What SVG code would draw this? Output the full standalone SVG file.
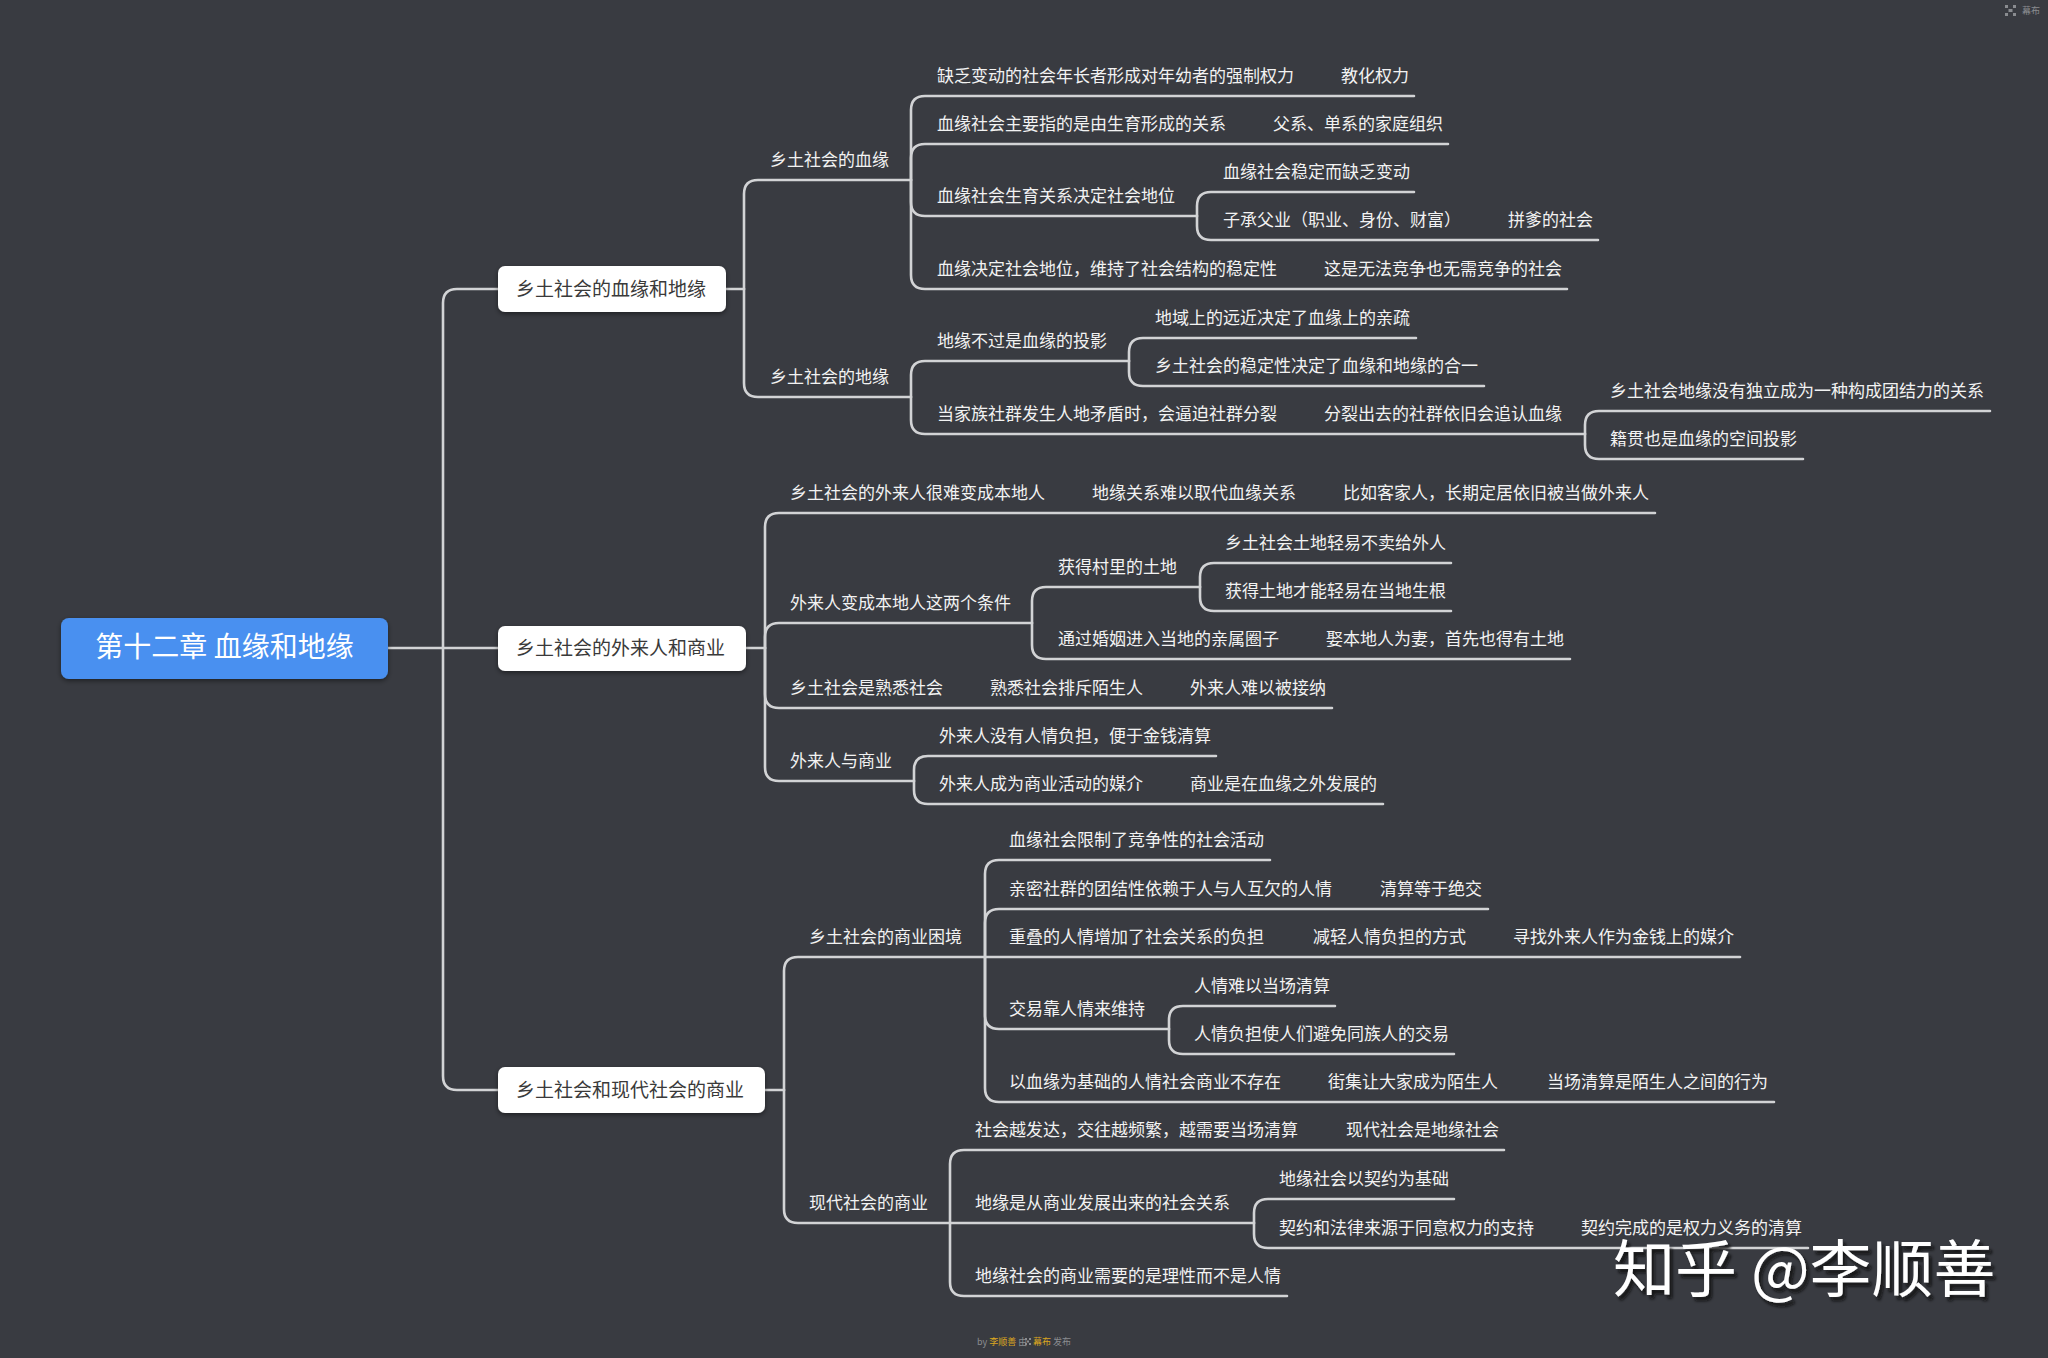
<svg xmlns="http://www.w3.org/2000/svg" width="2048" height="1358" viewBox="0 0 2048 1358">
<defs>
<style>
.t{font-family:"Noto Sans CJK SC","Noto Sans",sans-serif;font-size:17px;fill:#f2f2f2;transform:translateY(-2px)}
.l1{font-family:"Noto Sans CJK SC","Noto Sans",sans-serif;font-size:19px;fill:#3a3a3a}
.box{fill:#ffffff}
.c{fill:none;stroke:#d2d3d5;stroke-width:2.6;stroke-linecap:round}
.tiny{font-family:"Noto Sans CJK SC","Noto Sans",sans-serif;font-size:9px;fill:#8a8c90}
.or{fill:#d9a520}
</style>
<filter id="sh" x="-10%" y="-20%" width="120%" height="160%">
<feDropShadow dx="0" dy="2" stdDeviation="2.5" flood-color="#000" flood-opacity="0.45"/>
</filter>
<filter id="wm" x="-5%" y="-20%" width="115%" height="160%">
<feDropShadow dx="3" dy="4" stdDeviation="1.5" flood-color="#111" flood-opacity="0.85"/>
</filter>
</defs>
<rect width="2048" height="1358" fill="#393b41"/>

<g id="connectors">
<path class="c" d="M388,648 H498"/>
<path class="c" d="M443,648 V303 Q443,289 457,289 H498"/>
<path class="c" d="M443,648 V1076 Q443,1090 457,1090 H498"/>
<!-- branch 1 -->
<path class="c" d="M726,289 H744"/>
<path class="c" d="M744,289 V194 Q744,180 758,180 H911"/>
<path class="c" d="M744,289 V383 Q744,397 758,397 H911"/>
<path class="c" d="M911,180 V110 Q911,96 925,96 H1414"/>
<path class="c" d="M911,180 V158 Q911,144 925,144 H1448"/>
<path class="c" d="M911,180 V202 Q911,216 925,216 H1197"/>
<path class="c" d="M911,180 V275 Q911,289 925,289 H1567"/>
<path class="c" d="M1197,216 V206 Q1197,192 1211,192 H1414"/>
<path class="c" d="M1197,216 V226 Q1197,240 1211,240 H1598"/>
<path class="c" d="M911,397 V375 Q911,361 925,361 H1129"/>
<path class="c" d="M911,397 V420 Q911,434 925,434 H1585"/>
<path class="c" d="M1129,361 V352 Q1129,338 1143,338 H1416"/>
<path class="c" d="M1129,361 V372 Q1129,386 1143,386 H1484"/>
<path class="c" d="M1585,434 V425 Q1585,411 1599,411 H1990"/>
<path class="c" d="M1585,434 V445 Q1585,459 1599,459 H1803"/>
<!-- branch 2 -->
<path class="c" d="M746,648 H765"/>
<path class="c" d="M765,648 V527 Q765,513 779,513 H1655"/>
<path class="c" d="M765,648 V637 Q765,623 779,623 H1032"/>
<path class="c" d="M765,648 V694 Q765,708 779,708 H1332"/>
<path class="c" d="M765,648 V767 Q765,781 779,781 H914"/>
<path class="c" d="M1032,623 V601 Q1032,587 1046,587 H1200"/>
<path class="c" d="M1032,623 V645 Q1032,659 1046,659 H1570"/>
<path class="c" d="M1200,587 V577 Q1200,563 1214,563 H1451"/>
<path class="c" d="M1200,587 V597 Q1200,611 1214,611 H1451"/>
<path class="c" d="M914,781 V770 Q914,756 928,756 H1216"/>
<path class="c" d="M914,781 V790 Q914,804 928,804 H1383"/>
<!-- branch 3 -->
<path class="c" d="M765,1090 H784"/>
<path class="c" d="M784,1090 V971 Q784,957 798,957 H985"/>
<path class="c" d="M784,1090 V1209 Q784,1223 798,1223 H950"/>
<path class="c" d="M985,957 V874 Q985,860 999,860 H1270"/>
<path class="c" d="M985,957 V923 Q985,909 999,909 H1488"/>
<path class="c" d="M985,957 H1740"/>
<path class="c" d="M985,957 V1015 Q985,1029 999,1029 H1169"/>
<path class="c" d="M985,957 V1088 Q985,1102 999,1102 H1774"/>
<path class="c" d="M1169,1029 V1020 Q1169,1006 1183,1006 H1335"/>
<path class="c" d="M1169,1029 V1040 Q1169,1054 1183,1054 H1454"/>
<path class="c" d="M950,1223 V1164 Q950,1150 964,1150 H1504"/>
<path class="c" d="M950,1223 H1254"/>
<path class="c" d="M950,1223 V1282 Q950,1296 964,1296 H1287"/>
<path class="c" d="M1254,1223 V1213 Q1254,1199 1268,1199 H1454"/>
<path class="c" d="M1254,1223 V1234 Q1254,1248 1268,1248 H1808"/>
</g>

<g id="root">
<rect x="61" y="618" width="327" height="61" rx="8" fill="#4a90f0" filter="url(#sh)"/>
<text x="224.5" y="657" text-anchor="middle" font-family="'Noto Sans CJK SC','Noto Sans',sans-serif" font-size="28" fill="#ffffff">第十二章 血缘和地缘</text>
</g>

<g id="b1">
<rect class="box" x="498" y="266" width="228" height="46" rx="7" filter="url(#sh)"/>
<text class="l1" x="516" y="296">乡土社会的血缘和地缘</text>
</g>
<g id="b2">
<rect class="box" x="498" y="626" width="248" height="45" rx="7" filter="url(#sh)"/>
<text class="l1" x="516" y="655">乡土社会的外来人和商业</text>
</g>
<g id="b3">
<rect class="box" x="498" y="1067" width="267" height="46" rx="7" filter="url(#sh)"/>
<text class="l1" x="516" y="1097">乡土社会和现代社会的商业</text>
</g>

<g id="n-b1a"><text class="t" x="770" y="168">乡土社会的血缘</text></g>
<g id="n-b1b"><text class="t" x="770" y="385">乡土社会的地缘</text></g>
<g id="n1"><text class="t" x="937" y="84">缺乏变动的社会年长者形成对年幼者的强制权力</text></g>
<g id="n2"><text class="t" x="1341" y="84">教化权力</text></g>
<g id="n3"><text class="t" x="937" y="132">血缘社会主要指的是由生育形成的关系</text></g>
<g id="n4"><text class="t" x="1273" y="132">父系、单系的家庭组织</text></g>
<g id="n5"><text class="t" x="937" y="204">血缘社会生育关系决定社会地位</text></g>
<g id="n6"><text class="t" x="1223" y="180">血缘社会稳定而缺乏变动</text></g>
<g id="n7"><text class="t" x="1223" y="228">子承父业（职业、身份、财富）</text></g>
<g id="n8"><text class="t" x="1508" y="228">拼爹的社会</text></g>
<g id="n9"><text class="t" x="937" y="277">血缘决定社会地位，维持了社会结构的稳定性</text></g>
<g id="n10"><text class="t" x="1324" y="277">这是无法竞争也无需竞争的社会</text></g>
<g id="n11"><text class="t" x="937" y="349">地缘不过是血缘的投影</text></g>
<g id="n12"><text class="t" x="1155" y="326">地域上的远近决定了血缘上的亲疏</text></g>
<g id="n13"><text class="t" x="1155" y="374">乡土社会的稳定性决定了血缘和地缘的合一</text></g>
<g id="n14"><text class="t" x="937" y="422">当家族社群发生人地矛盾时，会逼迫社群分裂</text></g>
<g id="n15"><text class="t" x="1324" y="422">分裂出去的社群依旧会追认血缘</text></g>
<g id="n16"><text class="t" x="1610" y="399">乡土社会地缘没有独立成为一种构成团结力的关系</text></g>
<g id="n17"><text class="t" x="1610" y="447">籍贯也是血缘的空间投影</text></g>

<g id="n20"><text class="t" x="790" y="501">乡土社会的外来人很难变成本地人</text></g>
<g id="n21"><text class="t" x="1092" y="501">地缘关系难以取代血缘关系</text></g>
<g id="n22"><text class="t" x="1343" y="501">比如客家人，长期定居依旧被当做外来人</text></g>
<g id="n23"><text class="t" x="790" y="611">外来人变成本地人这两个条件</text></g>
<g id="n24"><text class="t" x="1058" y="575">获得村里的土地</text></g>
<g id="n25"><text class="t" x="1225" y="551">乡土社会土地轻易不卖给外人</text></g>
<g id="n26"><text class="t" x="1225" y="599">获得土地才能轻易在当地生根</text></g>
<g id="n27"><text class="t" x="1058" y="647">通过婚姻进入当地的亲属圈子</text></g>
<g id="n28"><text class="t" x="1326" y="647">娶本地人为妻，首先也得有土地</text></g>
<g id="n29"><text class="t" x="790" y="696">乡土社会是熟悉社会</text></g>
<g id="n30"><text class="t" x="990" y="696">熟悉社会排斥陌生人</text></g>
<g id="n31"><text class="t" x="1190" y="696">外来人难以被接纳</text></g>
<g id="n32"><text class="t" x="790" y="769">外来人与商业</text></g>
<g id="n33"><text class="t" x="939" y="744">外来人没有人情负担，便于金钱清算</text></g>
<g id="n34"><text class="t" x="939" y="792">外来人成为商业活动的媒介</text></g>
<g id="n35"><text class="t" x="1190" y="792">商业是在血缘之外发展的</text></g>

<g id="n40"><text class="t" x="809" y="945">乡土社会的商业困境</text></g>
<g id="n41"><text class="t" x="1009" y="848">血缘社会限制了竞争性的社会活动</text></g>
<g id="n42"><text class="t" x="1009" y="897">亲密社群的团结性依赖于人与人互欠的人情</text></g>
<g id="n43"><text class="t" x="1380" y="897">清算等于绝交</text></g>
<g id="n44"><text class="t" x="1009" y="945">重叠的人情增加了社会关系的负担</text></g>
<g id="n45"><text class="t" x="1313" y="945">减轻人情负担的方式</text></g>
<g id="n46"><text class="t" x="1513" y="945">寻找外来人作为金钱上的媒介</text></g>
<g id="n47"><text class="t" x="1009" y="1017">交易靠人情来维持</text></g>
<g id="n48"><text class="t" x="1194" y="994">人情难以当场清算</text></g>
<g id="n49"><text class="t" x="1194" y="1042">人情负担使人们避免同族人的交易</text></g>
<g id="n50"><text class="t" x="1009" y="1090">以血缘为基础的人情社会商业不存在</text></g>
<g id="n51"><text class="t" x="1328" y="1090">街集让大家成为陌生人</text></g>
<g id="n52"><text class="t" x="1547" y="1090">当场清算是陌生人之间的行为</text></g>
<g id="n53"><text class="t" x="809" y="1211">现代社会的商业</text></g>
<g id="n54"><text class="t" x="975" y="1138">社会越发达，交往越频繁，越需要当场清算</text></g>
<g id="n55"><text class="t" x="1346" y="1138">现代社会是地缘社会</text></g>
<g id="n56"><text class="t" x="975" y="1211">地缘是从商业发展出来的社会关系</text></g>
<g id="n57"><text class="t" x="1279" y="1187">地缘社会以契约为基础</text></g>
<g id="n58"><text class="t" x="1279" y="1236">契约和法律来源于同意权力的支持</text></g>
<g id="n59"><text class="t" x="1581" y="1236">契约完成的是权力义务的清算</text></g>
<g id="n60"><text class="t" x="975" y="1284">地缘社会的商业需要的是理性而不是人情</text></g>

<g id="watermark">
<text x="1613" y="1292" font-family="'Noto Sans CJK SC','Noto Sans',sans-serif" font-size="62" fill="#ffffff" filter="url(#wm)">知乎 @李顺善</text>
</g>

<g id="topright">
<g fill="#8a8c90">
<rect x="2005" y="5" width="3" height="3"/><rect x="2013" y="5" width="3" height="3"/>
<rect x="2005" y="13" width="3" height="3"/><rect x="2013" y="13" width="3" height="3"/>
<rect x="2008.5" y="9" width="4" height="3"/>
</g>
<text class="tiny" x="2022" y="14">幕布</text>
</g>

<g id="credit">
<text class="tiny" x="977" y="1345" font-size="8.5">by <tspan class="or">李顺善</tspan> 由 </text>
<g fill="#8a8c90">
<rect x="1025" y="1338" width="2" height="2"/><rect x="1029" y="1338" width="2" height="2"/>
<rect x="1025" y="1343" width="2" height="2"/><rect x="1029" y="1343" width="2" height="2"/>
<rect x="1027" y="1340.5" width="2" height="2"/>
</g>
<text class="tiny" x="1033" y="1345" font-size="8.5"><tspan class="or">幕布</tspan> 发布</text>
</g>
</svg>
